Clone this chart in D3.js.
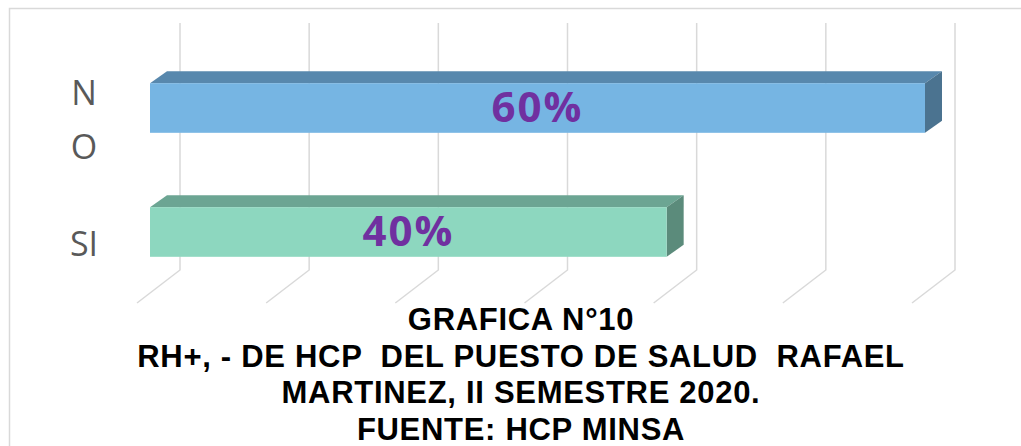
<!DOCTYPE html>
<html>
<head>
<meta charset="utf-8">
<script src="https://cdn.jsdelivr.net/npm/d3@7"></script>
<style>
  html, body { margin: 0; padding: 0; background: #fff; }
  svg { display: block; }
</style>
</head>
<body>
<div id="app"></div>
<script>
// datos de la gráfica
const categories = ['NO', 'SI']
const categoryLines = [['N', 'O'], ['SI']]
const values = [60, 40]
const valueLabels = ['60%', '40%']
const xTicks = [0, 10, 20, 30, 40, 50, 60]
const titleLines = [
  'GRAFICA N°10',
  'RH+, - DE HCP  DEL PUESTO DE SALUD  RAFAEL',
  'MARTINEZ, II SEMESTRE 2020.',
  'FUENTE: HCP MINSA',
]

const frontColors = ['#76b5e3', '#8dd7bf']
const topColors = ['#5888ad', '#6ca593']
const sideColors = ['#4b7390', '#5b8b7b']

const W = 1021, H = 446
const svg = d3.select('#app').append('svg').attr('width', W).attr('height', H)

// marco exterior
svg.append('rect')
  .attr('x', 9.5).attr('y', 8.5)
  .attr('width', W).attr('height', H)
  .attr('fill', 'none').attr('stroke', '#d9d9d9').attr('stroke-width', 1.5)

// escala en el plano medio de la profundidad
const x = d3.scaleLinear().domain([0, 60]).range([158.5, 933.5])
const y = d3.scaleBand().domain(categories).range([46, 294]).paddingInner(0.6).paddingOuter(0.3)

const bar = { dx: 8.5, dy: 6 } // mitad de la profundidad de la barra
const floor = { dx: 21.5, back: 270, front: 303 }
const wallTop = 23

// líneas de la cuadrícula (pared del fondo + piso)
const grid = svg.append('g')
  .attr('fill', 'none').attr('stroke', '#d9d9d9').attr('stroke-width', 1.5)
grid.selectAll('path')
  .data(xTicks)
  .join('path')
  .attr('d', (d) => {
    const xb = x(d) + floor.dx
    const xf = x(d) - floor.dx
    return `M${xb},${wallTop}L${xb},${floor.back}L${xf},${floor.front}`
  })

// barras 3D
const bars = svg.append('g')
  .selectAll('g')
  .data(categories.map((c, i) => ({ c, v: values[i], i })))
  .join('g')

const h = y.bandwidth()
const x0 = (d) => x(0) - bar.dx
const x1 = (d) => x(d.v) - bar.dx
const y0 = (d) => y(d.c)
const ddx = bar.dx * 2, ddy = bar.dy * 2

// cara superior
bars.append('path')
  .attr('fill', (d) => topColors[d.i])
  .attr('d', (d) => `M${x0(d)},${y0(d)}L${x0(d) + ddx},${y0(d) - ddy}L${x1(d) + ddx},${y0(d) - ddy}L${x1(d)},${y0(d)}Z`)
// cara lateral
bars.append('path')
  .attr('fill', (d) => sideColors[d.i])
  .attr('d', (d) => `M${x1(d)},${y0(d)}L${x1(d) + ddx},${y0(d) - ddy}L${x1(d) + ddx},${y0(d) + h - ddy}L${x1(d)},${y0(d) + h}Z`)
// cara frontal
bars.append('rect')
  .attr('fill', (d) => frontColors[d.i])
  .attr('x', x0).attr('y', y0)
  .attr('width', (d) => x1(d) - x0(d))
  .attr('height', h)

// etiquetas de datos
bars.append('text')
  .attr('x', (d) => (x0(d) + x1(d)) / 2)
  .attr('y', (d) => y0(d) + h / 2 + 14)
  .attr('text-anchor', 'middle')
  .attr('font-family', '"Open Sans", sans-serif')
  .attr('font-weight', 700)
  .attr('font-size', 42)
  .attr('letter-spacing', 2)
  .attr('fill', '#7030a0')
  .text((d) => valueLabels[d.i])

// etiquetas de categorías
const lineH = 54
svg.append('g')
  .selectAll('text')
  .data(categories.map((c, i) => ({ c, i })))
  .join('text')
  .attr('text-anchor', 'middle')
  .attr('font-family', '"Open Sans", sans-serif')
  .attr('font-size', 34)
  .attr('fill', '#595959')
  .each(function (d) {
    const lines = categoryLines[d.i]
    const cy = y(d.c) + h / 2 + 12
    const first = cy - ((lines.length - 1) * lineH) / 2 + 12
    d3.select(this).selectAll('tspan')
      .data(lines)
      .join('tspan')
      .attr('x', 84)
      .attr('y', (_, k) => first + k * lineH)
      .text((t) => t)
  })

// título
svg.append('g')
  .selectAll('text')
  .data(titleLines)
  .join('text')
  .attr('x', 521)
  .attr('y', (_, i) => 330 + i * 36.7)
  .attr('text-anchor', 'middle')
  .attr('font-family', '"Liberation Sans", Arial, sans-serif')
  .attr('font-weight', 700)
  .attr('font-size', 31)
  .attr('letter-spacing', 0.7)
  .attr('fill', '#000')
  .style('white-space', 'pre')
  .text((d) => d)
</script>
</body>
</html>
